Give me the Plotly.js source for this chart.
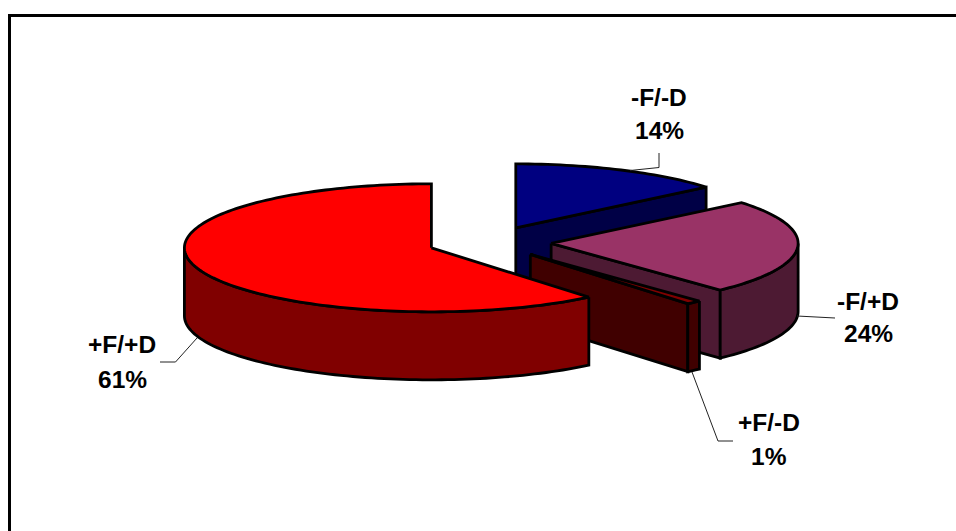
<!DOCTYPE html>
<html>
<head>
<meta charset="utf-8">
<script src="https://cdn.plot.ly/plotly-3.0.1.min.js"></script>
<style>html,body{margin:0;padding:0;background:#fff}#chart{width:956px;height:531px}</style>
</head>
<body>
<div id="chart"></div>
<script>
// Slice data, clockwise from twelve o'clock
const categories = ['-F/-D', '-F/+D', '+F/-D', '+F/+D'];
const shares = [14, 24, 1, 61];

// Slice colours
const topColors = ['#000080', '#993366', '#800000', '#ff0000'];
const sideColors = ['#000046', '#4d1a33', '#400000', '#800000'];

// Pie geometry in pixels; the plot axes turn a unit disc into this ellipse
const W = 956, H = 531;
const centerPx = [489.5, 242.4];
const radiusPx = [247, 64];
const depth = 68 / 64;      // pie thickness in disc units
const explode = 0.25;       // slice offset along its mid angle

// Label placement in pixels: [name y, percent y, centre x]
const labelPos = [[97, 130, 659], [301, 333, 868], [422, 456, 769], [344, 379, 122]];
// Leader lines in pixels
const leaders = [
  [[659, 153], [659, 167.5], [630, 170.5]],
  [[797, 316], [835, 318]],
  [[692, 372], [718, 441], [733, 441]],
  [[197, 338], [175.5, 362], [160, 362]]
];

const rad = d => d * Math.PI / 180;
const trace = (xs, ys, fill) => ({
  type: 'scatter', mode: 'lines', x: xs, y: ys,
  fill: 'toself', fillcolor: fill,
  line: {color: '#000', width: 2.8, simplify: false},
  hoverinfo: 'skip', showlegend: false
});

const traces = [];
let start = 0;
shares.forEach((share, i) => {
  const sweep = share / 100 * 360;
  const end = start + sweep;
  const mid = rad(start + sweep / 2);
  const cx = explode * Math.sin(mid);
  const cy = explode * Math.cos(mid);
  const pt = a => [cx + Math.sin(rad(a)), cy + Math.cos(rad(a))];
  const arc = (a0, a1) => {
    const n = Math.max(2, Math.ceil((a1 - a0) / 1.5));
    return Array.from({length: n + 1}, (_, k) => pt(a0 + (a1 - a0) * k / n));
  };

  // Cut faces that turn towards the viewer
  [[start, Math.sin(rad(start)) < -1e-6], [end, Math.sin(rad(end)) > 1e-6]].forEach(([a, seen]) => {
    if (!seen) return;
    const p = pt(a);
    traces.push(trace([cx, p[0], p[0], cx, cx], [cy, p[1], p[1] - depth, cy - depth, cy], sideColors[i]));
  });

  // Outer wall on the front half of the pie
  const a0 = Math.max(start, 90), a1 = Math.min(end, 270);
  if (a1 > a0) {
    const rim = arc(a0, a1);
    const low = rim.slice().reverse().map(p => [p[0], p[1] - depth]);
    const wall = rim.concat(low, [rim[0]]);
    traces.push(trace(wall.map(p => p[0]), wall.map(p => p[1]), sideColors[i]));
  }

  // Top surface
  const top = [[cx, cy]].concat(arc(start, end), [[cx, cy]]);
  traces.push(trace(top.map(p => p[0]), top.map(p => p[1]), topColors[i]));
  start = end;
});

// Thin leader lines and the chart frame, placed in paper fractions
const px = x => x / W, py = y => 1 - y / H;
const shapes = leaders.map(path => ({
  type: 'path', xref: 'paper', yref: 'paper',
  path: path.map((p, k) => (k ? 'L' : 'M') + px(p[0]) + ',' + py(p[1])).join(' '),
  line: {color: '#222', width: 1}
}));
shapes.push(
  {type: 'line', xref: 'paper', yref: 'paper', x0: px(8), x1: 1, y0: py(15.5), y1: py(15.5), line: {color: '#000', width: 3}},
  {type: 'line', xref: 'paper', yref: 'paper', x0: px(9.5), x1: px(9.5), y0: py(14), y1: 0, line: {color: '#000', width: 3}}
);

const labelFont = {family: 'Liberation Sans, Arial, sans-serif', size: 24.5, color: '#000'};
const note = (text, x, y) => ({
  text: '<b>' + text + '</b>', xref: 'paper', yref: 'paper', x: px(x), y: py(y),
  xanchor: 'center', yanchor: 'middle', showarrow: false, font: labelFont
});
const annotations = [];
categories.forEach((name, i) => {
  annotations.push(note(name, labelPos[i][2], labelPos[i][0]));
  annotations.push(note(shares[i] + '%', labelPos[i][2], labelPos[i][1]));
});

const layout = {
  width: W, height: H, margin: {l: 0, r: 0, t: 0, b: 0},
  paper_bgcolor: '#fff', plot_bgcolor: '#fff', showlegend: false, hovermode: false,
  xaxis: {visible: false, fixedrange: true, range: [-centerPx[0] / radiusPx[0], (W - centerPx[0]) / radiusPx[0]]},
  yaxis: {visible: false, fixedrange: true, range: [(centerPx[1] - H) / radiusPx[1], centerPx[1] / radiusPx[1]]},
  shapes, annotations
};
Plotly.newPlot('chart', traces, layout, {displayModeBar: false, staticPlot: true});
</script>
</body>
</html>
